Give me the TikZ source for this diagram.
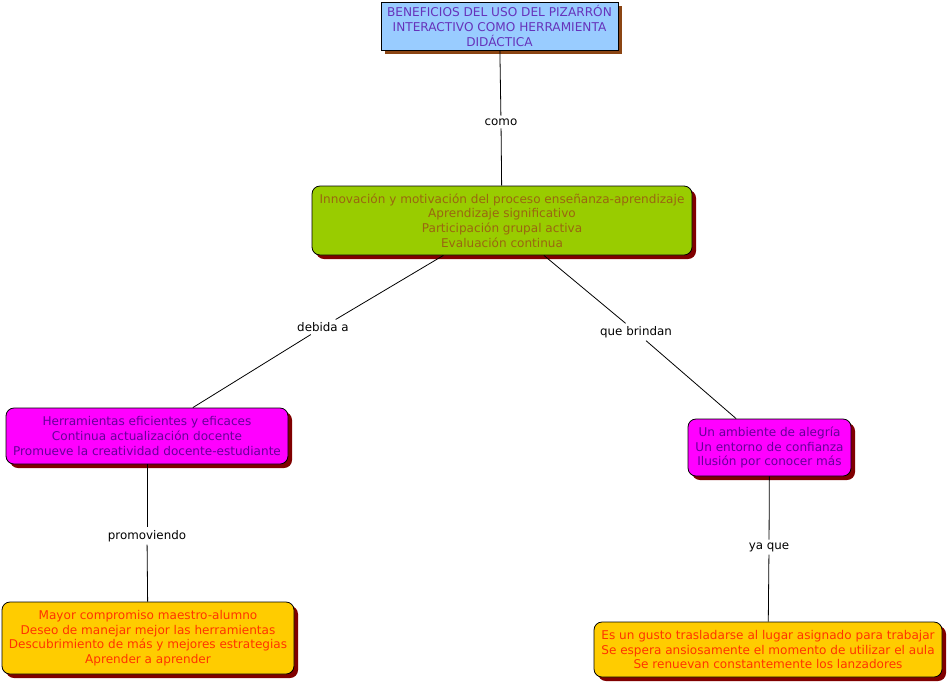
\documentclass[tikz,border=0pt]{standalone}
\usepackage{fontspec}
\setmainfont{DejaVu Sans}
\usetikzlibrary{shadows}
\definecolor{topfill}{HTML}{99CCFF}
\definecolor{toptext}{HTML}{6633BB}
\definecolor{greenfill}{HTML}{99CC00}
\definecolor{greentext}{HTML}{996610}
\definecolor{magfill}{HTML}{FF00FF}
\definecolor{magtext}{HTML}{660099}
\definecolor{yelfill}{HTML}{FFCC00}
\definecolor{yeltext}{HTML}{FF3300}
\definecolor{shadowred}{HTML}{800000}
\definecolor{shadowbrown}{HTML}{8B4513}
\tikzset{
  x=0.75pt, y=-0.75pt,
  concept/.style={draw=black, line width=0.6pt, align=center, inner sep=1pt,
    font=\fontsize{9.05}{10.9}\selectfont,
    drop shadow={shadow xshift=3pt, shadow yshift=-3pt, fill=shadowred, opacity=1}},
  topbox/.style={concept, fill=topfill, text=toptext,
    drop shadow={shadow xshift=3pt, shadow yshift=-3pt, fill=shadowbrown, opacity=1},
    font=\fontsize{9.1}{11.2}\selectfont},
  greenbox/.style={concept, fill=greenfill, text=greentext, rounded corners=6pt},
  magbox/.style={concept, fill=magfill, text=magtext, rounded corners=6pt},
  yelbox/.style={concept, fill=yelfill, text=yeltext, rounded corners=6pt},
  linklabel/.style={fill=white, text=black, inner sep=2pt, font=\fontsize{8.9}{10}\selectfont},
  link/.style={draw=black, line width=0.6pt}
}
\begin{document}
\begin{tikzpicture}
\useasboundingbox (0,0) rectangle (948,683);
\node[topbox, minimum width=177.75pt, minimum height=36pt] (top) at (499.5,26)
  {BENEFICIOS DEL USO DEL PIZARRÓN\\INTERACTIVO COMO HERRAMIENTA\\DIDÁCTICA};
\node[greenbox, minimum width=285pt, minimum height=51.75pt] (green) at (502,220.5)
  {Innovación y motivación del proceso enseñanza-aprendizaje\\Aprendizaje significativo\\Participación grupal activa\\Evaluación continua};
\node[magbox, minimum width=211.5pt, minimum height=42pt] (magl) at (147,436)
  {Herramientas eficientes y eficaces\\Continua actualización docente\\Promueve la creatividad docente-estudiante};
\node[magbox, minimum width=122.25pt, minimum height=42.75pt] (magr) at (769.5,447.5)
  {Un ambiente de alegría\\Un entorno de confianza\\Ilusión por conocer más};
\node[yelbox, minimum width=219pt, minimum height=54pt] (yell) at (148,638)
  {Mayor compromiso maestro-alumno\\Deseo de manejar mejor las herramientas\\Descubrimiento de más y mejores estrategias\\Aprender a aprender};
\node[yelbox, minimum width=261pt, minimum height=41.25pt] (yelr) at (768,649.5)
  {Es un gusto trasladarse al lugar asignado para trabajar\\Se espera ansiosamente el momento de utilizar el aula\\Se renuevan constantemente los lanzadores};

\node[linklabel] (como) at (501,122) {como};
\node[linklabel] (debida) at (323,327) {debida a};
\node[linklabel] (brindan) at (636,332) {que brindan};
\node[linklabel] (promo) at (147,536) {promoviendo};
\node[linklabel] (yaque) at (769,547) {ya que};

\draw[link] (top) -- (como);
\draw[link] (como) -- (green);
\draw[link] (green) -- (debida);
\draw[link] (debida) -- (magl);
\draw[link] (green) -- (brindan);
\draw[link] (brindan) -- (magr);
\draw[link] (magl) -- (promo);
\draw[link] (promo) -- (yell);
\draw[link] (magr) -- (yaque);
\draw[link] (yaque) -- (yelr);
\end{tikzpicture}
\end{document}
